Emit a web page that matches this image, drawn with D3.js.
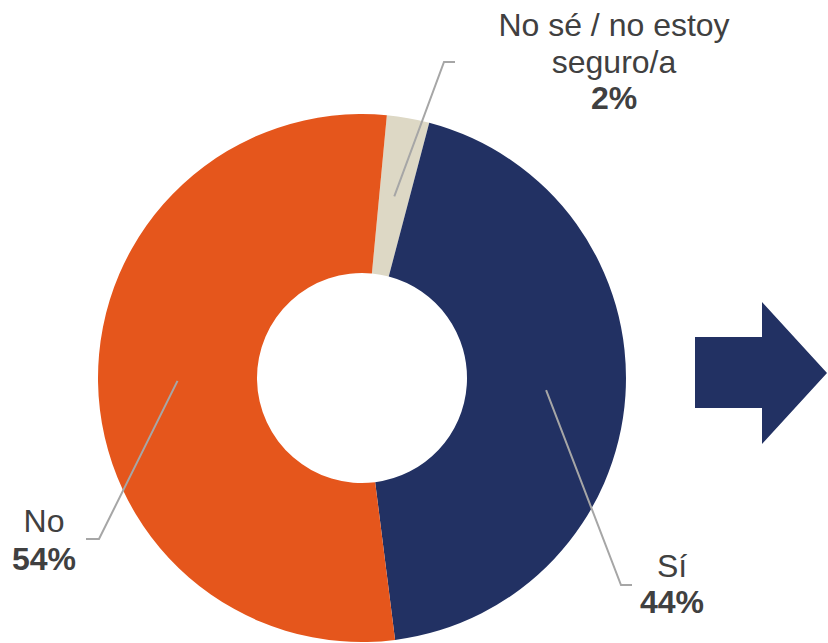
<!DOCTYPE html>
<html>
<head>
<meta charset="utf-8">
<script src="https://cdn.jsdelivr.net/npm/d3@7"></script>
<style>
  body { margin: 0; background: #fff; }
  text { font-family: "Liberation Sans", Arial, sans-serif; }
</style>
</head>
<body>
<div id="chart"></div>
<script>
// data, in drawing order (clockwise from the start angle)
var categories = ["No sé / no estoy seguro/a", "Sí", "No"];
var values = [2.6, 43.9, 53.5];
var pctLabels = ["2%", "44%", "54%"];
var colors = ["#DDD8C5", "#223163", "#E5561C"];

var width = 828, height = 643;
var cx = 362, cy = 378,
    outerR = 264, innerR = 105;

var svg = d3.select("#chart").append("svg")
    .attr("width", width)
    .attr("height", height);

var g = svg.append("g")
    .attr("transform", "translate(" + cx + "," + cy + ")");

var start = 5.4 * Math.PI / 180;
var pie = d3.pie().sort(null).value(d => d)
    .startAngle(start).endAngle(start + 2 * Math.PI);
var arc = d3.arc().innerRadius(innerR).outerRadius(outerR);

var arcs = pie(values);

g.selectAll("path.slice")
    .data(arcs)
    .join("path")
    .attr("class", "slice")
    .attr("d", arc)
    .attr("fill", (d, i) => colors[i]);

// label anchors (relative to the centre): leader end point, text centre
var labelPos = [
    { elbow: [82, -316], end: [93, -316], tx: 252, ty: [-342, -305, -269], lines: ["No sé / no estoy", "seguro/a"] },
    { elbow: [259, 207], end: [270, 207], tx: 310, ty: [199, 235], lines: ["Sí"] },
    { elbow: [-263, 161], end: [-276, 161], tx: -318, ty: [154, 192], lines: ["No"] }
];

// leader lines
g.selectAll("polyline.leader")
    .data(arcs)
    .join("polyline")
    .attr("class", "leader")
    .attr("points", (d, i) => {
        var c = arc.centroid(d), p = labelPos[i];
        return [c, p.elbow, p.end].map(q => q.join(",")).join(" ");
    })
    .attr("fill", "none")
    .attr("stroke", "#A6A6A6")
    .attr("stroke-width", 2);

// labels
arcs.forEach(function(d, i) {
    var p = labelPos[i];
    var t = g.append("text")
        .attr("text-anchor", "middle")
        .style("font-size", "32px")
        .attr("fill", "#404040");
    p.lines.forEach(function(line, j) {
        t.append("tspan").attr("x", p.tx).attr("y", p.ty[j]).text(line);
    });
    t.append("tspan")
        .attr("x", p.tx)
        .attr("y", p.ty[p.lines.length])
        .style("font-weight", "bold")
        .text(pctLabels[i]);
});

// decorative arrow on the right
svg.append("path")
    .attr("d", "M695,337 L762,337 L762,302 L827,373 L762,444 L762,408 L695,408 Z")
    .attr("fill", "#223163");
</script>
</body>
</html>
